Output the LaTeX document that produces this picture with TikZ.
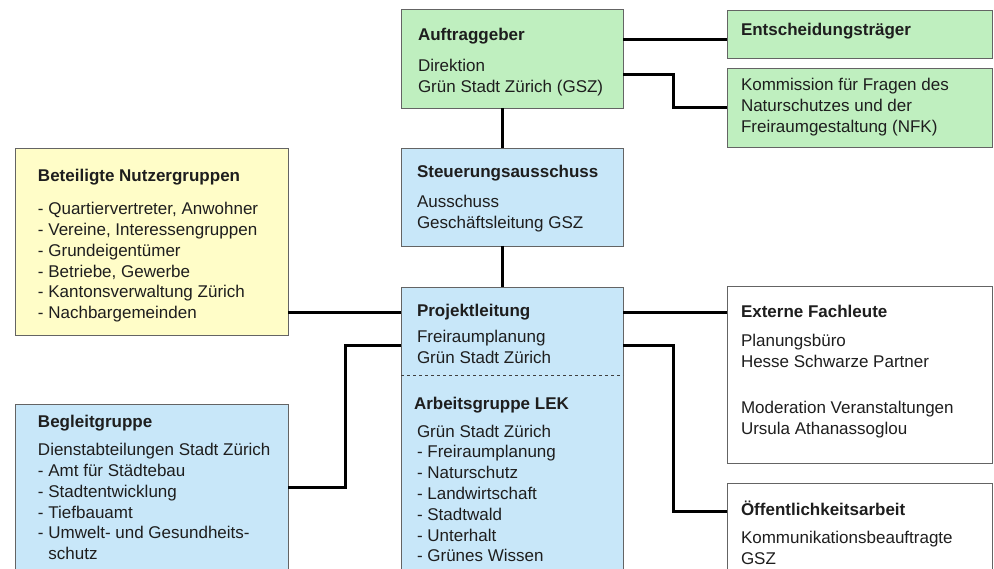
\documentclass[tikz,border=0pt]{standalone}
\usepackage{fontspec}
\setmainfont{Liberation Sans}
\usetikzlibrary{calc}
\definecolor{grn}{HTML}{BFEFBF}
\definecolor{blu}{HTML}{C8E7F9}
\definecolor{ylw}{HTML}{FFFDC8}
\definecolor{frame}{HTML}{646464}
\definecolor{ink}{HTML}{1E1E1E}
\tikzset{
  box/.style={draw=frame, line width=0.9pt, anchor=north west, inner sep=0pt, outer sep=0pt, text=ink, font=\fontsize{17}{20.8}\selectfont},
  conn/.style={draw=black, line width=3pt},
  sep/.style={draw=black!75, dashed, line width=0.9pt},
}
% width, height, left pad, first baseline, text
\newcommand{\boxtext}[5]{\parbox[t][#2pt][t]{#1pt}{\raggedright\leftskip=#3pt\rule{0pt}{#4pt}#5}}

\begin{document}
\begin{tikzpicture}[x=1pt,y=-1pt]
  \useasboundingbox (0,0) rectangle (994,569);
  \clip (0,0) rectangle (994,569);

  % top row
  \node[box, fill=grn] (auftr) at (401,9) {\boxtext{222}{99}{17}{32}{\textbf{Auftraggeber}\\[10pt]Direktion\\Grün Stadt Zürich (GSZ)}};
  \node[box, fill=grn] (entsch) at (727,10) {\boxtext{265}{48}{14}{26}{\textbf{Entscheidungsträger}}};
  \node[box, fill=grn] (komm) at (727,68) {\boxtext{265}{79}{14}{23}{Kommission für Fragen des\\Naturschutzes und der\\Freiraumgestaltung (NFK)}};

  % middle
  \node[box, fill=blu] (steuer) at (401,148) {\boxtext{222}{98}{16}{30}{\textbf{Steuerungsausschuss}\\[9pt]Ausschuss\\Geschäftsleitung GSZ}};
  \node[box, fill=ylw] (nutzer) at (15,148) {\boxtext{273}{187}{23}{34}{\textbf{Beteiligte Nutzergruppen}\\[12pt]- Quartiervertreter, Anwohner\\- Vereine, Interessengruppen\\- Grundeigentümer\\- Betriebe, Gewerbe\\- Kantonsverwaltung Zürich\\- Nachbargemeinden}};
  \node[box, fill=blu] (proj) at (401,287) {\boxtext{222}{300}{16}{30}{\textbf{Projektleitung}\\[5pt]Freiraumplanung\\Grün Stadt Zürich\\[25pt]\hspace*{-3pt}\textbf{Arbeitsgruppe LEK}\\[7pt]Grün Stadt Zürich\\- Freiraumplanung\\- Naturschutz\\- Landwirtschaft\\- Stadtwald\\- Unterhalt\\- Grünes Wissen}};
  \node[box, fill=white] (ext) at (727,286) {\boxtext{265}{177}{14}{32}{\textbf{Externe Fachleute}\\[8pt]Planungsbüro\\Hesse Schwarze Partner\\[25pt]Moderation Veranstaltungen\\Ursula Athanassoglou}};

  % bottom
  \node[box, fill=blu] (begl) at (15,404) {\boxtext{273}{200}{23}{24}{\textbf{Begleitgruppe}\\[7pt]Dienstabteilungen Stadt Zürich\\- Amt für Städtebau\\- Stadtentwicklung\\- Tiefbauamt\\- Umwelt- und Gesundheits-\\\phantom{- }schutz}};
  \node[box, fill=white] (oeff) at (727,483) {\boxtext{265}{100}{14}{32}{\textbf{Öffentlichkeitsarbeit}\\[8pt]Kommunikationsbeauftragte\\GSZ}};

  \draw[sep] ($(proj.north west)+(0,88)$) -- ($(proj.north east)+(0,88)$);

  % connectors
  \coordinate (auftrA) at ($(auftr.north east)+(0,31)$);
  \coordinate (auftrB) at ($(auftr.north east)+(0,66)$);
  \coordinate (projA) at ($(proj.north west)+(0,26)$);
  \coordinate (projB) at ($(proj.north west)+(0,59)$);
  \coordinate (projC) at ($(proj.north east)+(0,26)$);
  \coordinate (projD) at ($(proj.north east)+(0,59)$);
  \coordinate (beglA) at ($(begl.north east)+(0,83)$);
  \coordinate (oeffA) at ($(oeff.north west)+(0,28)$);

  \draw[conn] (auftrA) -- (auftrA -| entsch.west);
  \draw[conn] (auftrB) -- ++(50,0) |- (komm.west);
  \draw[conn] ($(auftr.south)+(-10,0)$) -- ($(steuer.north)+(-10,0)$);
  \draw[conn] ($(steuer.south)+(-10,0)$) -- ($(proj.north)+(-10,0)$);
  \draw[conn] (projA) -- (projA -| nutzer.east);
  \draw[conn] (projC) -- (projC -| ext.west);
  \draw[conn] (projB) -- ++(-56,0) |- (beglA);
  \draw[conn] (projD) -- ++(50,0) |- (oeffA);
\end{tikzpicture}
\end{document}
